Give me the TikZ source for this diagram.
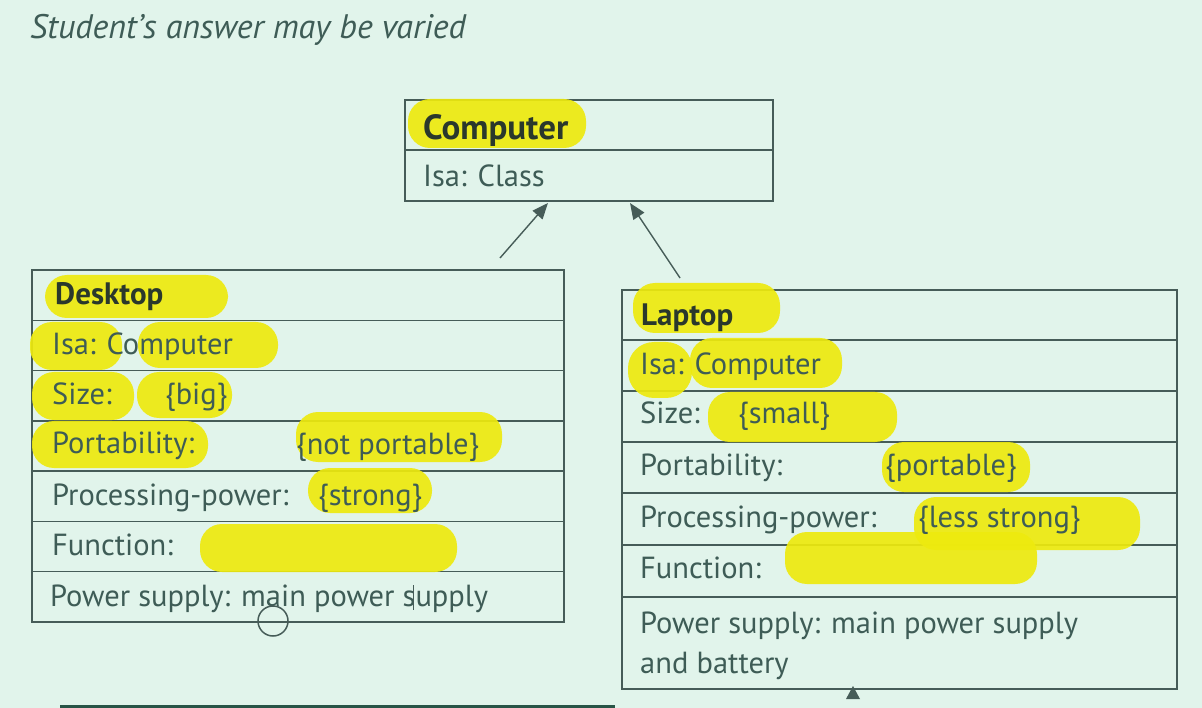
\documentclass[tikz,border=0pt]{standalone}
\usepackage{fontspec}
\setmainfont{PT Sans}
\usetikzlibrary{arrows.meta}
\definecolor{bgc}{RGB}{225,244,235}
\definecolor{linec}{RGB}{70,92,88}
\definecolor{textc}{RGB}{62,92,86}
\definecolor{headc}{RGB}{42,56,44}
\definecolor{hly}{RGB}{238,234,14}
\definecolor{barc}{RGB}{40,84,70}
\begin{document}
\begin{tikzpicture}[x=1pt,y=-1pt,
  boxline/.style={draw=linec, line width=1.4pt},
  umlbox/.style={boxline, anchor=north west, inner sep=0pt, outer sep=0pt},
  txt/.style={anchor=base west, inner sep=0pt, text=textc, font=\fontsize{30.5}{33}\selectfont},
  head/.style={txt, text=headc, font=\bfseries\fontsize{31}{33}\selectfont},
  hl/.style={fill=hly, opacity=0.92, rounded corners=22pt},
  isa/.style={draw=linec, line width=1.4pt, -{Triangle[length=16pt,width=13pt]}}]
\useasboundingbox (0,0) rectangle (1202,708);
\fill[bgc] (0,0) rectangle (1202,708);

% title
\node[txt, font=\itshape\fontsize{34}{36}\selectfont] (title) at (30,39) {Student’s answer may be varied};

% boxes
\node[umlbox, minimum width=368pt, minimum height=101pt] (computer) at (405,100) {};
\draw[boxline] (405,150) -- (773,150);

\node[umlbox, minimum width=532pt, minimum height=352pt] (desktop) at (32,270) {};
\foreach \yy in {320.3,370.6,420.9,471.1,521.4,571.7}
  \draw[boxline] (32,\yy) -- (564,\yy);

\node[umlbox, minimum width=555pt, minimum height=399pt] (laptop) at (622,290) {};
\foreach \yy in {340,391,442,493,545,597}
  \draw[boxline] (622,\yy) -- (1177,\yy);

% arrows
\coordinate (dstart) at (500,258);
\coordinate (dend) at (548,203);
\coordinate (lstart) at (680,278);
\coordinate (lend) at (630,203);
\draw[isa] (dstart) -- (dend);
\draw[isa] (lstart) -- (lend);

% highlights
\fill[hl] (408,99) rectangle (586,148);
\fill[hl] (45,275) rectangle (228,318);
\fill[hl] (30,322) rectangle (122,370);
\fill[hl] (138,322) rectangle (278,368);
\fill[hl] (32,372) rectangle (134,420);
\fill[hl] (137,372) rectangle (232,418);
\fill[hl] (32,421) rectangle (208,468);
\fill[hl] (296,412) rectangle (502,462);
\fill[hl] (308,468) rectangle (432,513);
\fill[hl] (200,524) rectangle (457,572);
\fill[hl] (633,283) rectangle (780,333);
\fill[hl, rounded corners=26pt] (628,342) rectangle (692,398);
\fill[hl] (690,338) rectangle (842,388);
\fill[hl] (708,392) rectangle (897,442);
\fill[hl] (882,442) rectangle (1030,492);
\fill[hl] (785,532) rectangle (1037,584);
\fill[hl] (914,497) rectangle (1140,550);

% computer texts
\node[head, font=\bfseries\fontsize{35}{37}\selectfont] (cname) at (423,140) {Computer};
\node[txt] (cisa) at (423,187) {Isa: Class};

% desktop texts
\node[head] (dname) at (55,305) {Desktop};
\node[txt] (disa) at (52,355) {Isa: Computer};
\node[txt] (dsize) at (52,404) {Size:};
\node[txt] (dsizev) at (165,404) {\{big\}};
\node[txt] (dport) at (52,453) {Portability:};
\node[txt] (dportv) at (296,454) {\{not portable\}};
\node[txt] (dproc) at (52,505) {Processing-power:};
\node[txt] (dprocv) at (318,505) {\{strong\}};
\node[txt] (dfunc) at (52,555) {Function:};
\node[txt] (dpow) at (50,606) {Power supply: main power supply};

% laptop texts
\node[head] (lname) at (641,326) {Laptop};
\node[txt] (lisa) at (640,375) {Isa: Computer};
\node[txt] (lsize) at (640,424) {Size:};
\node[txt] (lsizev) at (738,424) {\{small\}};
\node[txt] (lport) at (640,475) {Portability:};
\node[txt] (lportv) at (885,475) {\{portable\}};
\node[txt] (lproc) at (640,527) {Processing-power:};
\node[txt] (lprocv) at (918,527) {\{less strong\}};
\node[txt] (lfunc) at (640,578) {Function:};
\node[txt] (lpow) at (640,633) {Power supply: main power supply};
\node[txt] (lpow2) at (640,673) {and battery};

% handwritten marks
\draw[linec, line width=1.5pt] (273,621) circle (15);
\draw[linec, line width=1pt] (413,585) -- (413,610);

% bottom remnants
\fill[linec] (853,686) -- (860,699) -- (846,699) -- cycle;
\draw[barc, line width=5pt] (60,707) -- (615,707);
\end{tikzpicture}
\end{document}
